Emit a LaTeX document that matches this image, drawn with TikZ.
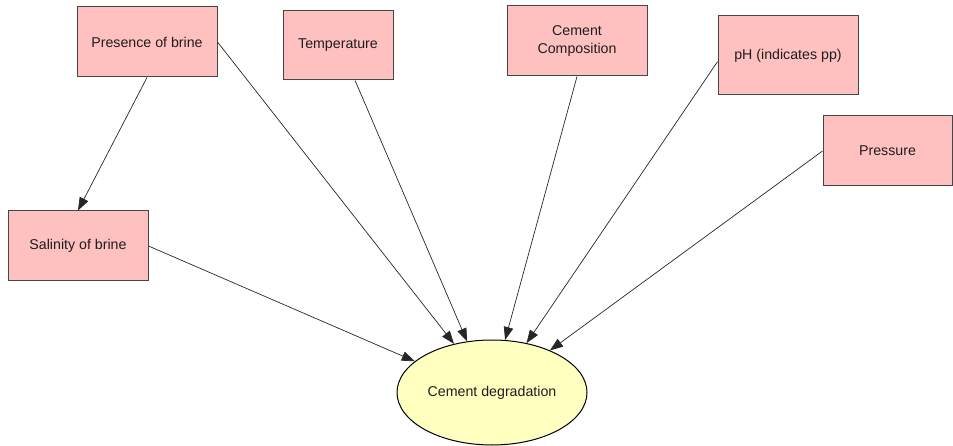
\documentclass[tikz,border=0pt]{standalone}
\usepackage{fontspec}
\setmainfont{Liberation Sans}
\usetikzlibrary{shapes.geometric,arrows.meta}
\definecolor{boxfill}{RGB}{255,192,192}
\definecolor{ellfill}{RGB}{255,255,192}
\definecolor{boxedge}{RGB}{70,70,70}
\definecolor{inktext}{RGB}{30,30,30}
\begin{document}
\begin{tikzpicture}[x=1pt,y=-1pt,
  factor/.style={rectangle,draw=boxedge,fill=boxfill,line width=1pt,inner sep=0pt,
    align=center,text=inktext,font=\fontsize{14.2}{17.5}\selectfont},
  outcome/.style={ellipse,draw=black,fill=ellfill,line width=1pt,inner sep=0pt,
    minimum width=190pt,minimum height=105pt,text=inktext,font=\fontsize{14.2}{17.5}\selectfont},
  link/.style={draw=black!85,line width=0.7pt,-{Triangle[length=13pt,width=9.5pt]}}]
\useasboundingbox (0,0) rectangle (953,446);

% factors
\node[factor,minimum width=140pt,minimum height=70pt] (pres)  at (147,42)    {Presence of brine};
\node[factor,minimum width=110pt,minimum height=69pt] (temp)  at (338,45.5)  {Temperature};
\node[factor,minimum width=140pt,minimum height=70pt] (comp)  at (577,41)    {Cement\\Composition};
\node[factor,minimum width=140pt,minimum height=79pt] (ph)    at (788,55.5)  {pH (indicates pp)};
\node[factor,minimum width=129pt,minimum height=70pt] (press) at (887.5,151) {Pressure};
\node[factor,minimum width=140pt,minimum height=70pt] (sal)   at (78,246)    {Salinity of brine};

% outcome
\node[outcome] (deg) at (492,392.5) {Cement degradation};

% influences
\draw[link] (pres.south) -- (sal.north);
\draw[link] (pres.east)  -- (deg.128);
\draw[link] (temp.-64)   -- (deg.116);
\draw[link] (comp.south) -- (deg.76);
\draw[link] (ph.185)     -- (deg.55);
\draw[link] (press.west) -- (deg.36);
\draw[link] (sal.east)   -- (deg.158);
\end{tikzpicture}
\end{document}
